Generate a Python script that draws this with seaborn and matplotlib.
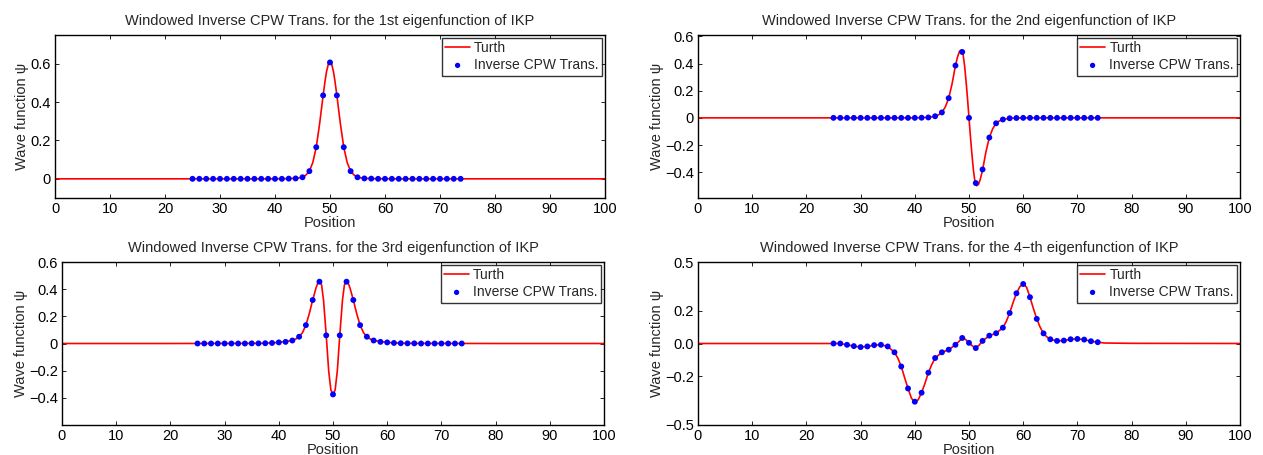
import numpy as np
import pandas as pd
import matplotlib
matplotlib.use("Agg")
import matplotlib.pyplot as plt
import seaborn as sns

# ---------------- data ----------------
dot_x = [25, 26.25, 27.5, 28.75, 30, 31.25, 32.5, 33.75, 35, 36.25,
         37.5, 38.75, 40, 41.25, 42.5, 43.75, 45, 46.25, 47.5, 48.75,
         50, 51.25, 52.5, 53.75, 55, 56.25, 57.5, 58.75, 60, 61.25,
         62.5, 63.75, 65, 66.25, 67.5, 68.75, 70, 71.25, 72.5, 73.75]

dot1 = [0, 0, 0, 0, 0, 0, 0, 0, 0, 0,
        0, 0, 0, 0, 0.001, 0.002, 0.008, 0.04, 0.165, 0.435,
        0.607, 0.435, 0.165, 0.04, 0.008, 0.002, 0.001, 0, 0, 0,
        0, 0, 0, 0, 0, 0, 0, 0, 0, 0]
dot2 = [0, 0, 0, 0, 0, 0, 0, 0, 0, 0,
        0, 0, 0, 0.001, 0.003, 0.012, 0.04, 0.145, 0.385, 0.485,
        0.0, -0.48, -0.38, -0.145, -0.04, -0.012, -0.003, -0.001, 0, 0,
        0, 0, 0, 0, 0, 0, 0, 0, 0, 0]
dot3 = [0, 0, 0, 0, 0, 0, 0, 0, 0.001, 0.001,
        0.002, 0.004, 0.008, 0.012, 0.022, 0.05, 0.135, 0.32, 0.455, 0.06,
        -0.375, 0.06, 0.455, 0.32, 0.135, 0.05, 0.022, 0.012, 0.008, 0.004,
        0.002, 0.001, 0.001, 0, 0, 0, 0, 0, 0, 0]
dot4 = [0.0, 0.0, -0.008, -0.016, -0.022, -0.018, -0.01, -0.008, -0.018, -0.054,
        -0.141, -0.276, -0.357, -0.302, -0.179, -0.089, -0.054, -0.038, -0.008, 0.034,
        0.004, -0.028, 0.016, 0.048, 0.063, 0.097, 0.187, 0.308, 0.365, 0.284,
        0.151, 0.062, 0.026, 0.016, 0.018, 0.026, 0.028, 0.024, 0.014, 0.008]

truth1_x = [0, 20, 40, 42.5, 43.75, 44.375, 45, 45.625, 46.25, 46.875, 47.5, 48.125,
            48.75, 49.1, 49.375, 49.7, 50, 50.3, 50.625, 50.9, 51.25, 51.875, 52.5,
            53.125, 53.75, 54.375, 55, 55.625, 56.25, 57.5, 60, 80, 100]
truth1_y = [0, 0, 0, 0.001, 0.003, 0.005, 0.008, 0.02, 0.04, 0.085, 0.165, 0.29,
            0.435, 0.51, 0.56, 0.598, 0.61, 0.598, 0.56, 0.51, 0.435, 0.29, 0.165,
            0.085, 0.04, 0.02, 0.008, 0.005, 0.003, 0.001, 0, 0, 0]

truth2_x = [0, 20, 40, 42.5, 43.75, 44.375, 45, 45.625, 46.25, 46.875, 47.5, 47.9,
            48.25, 48.6, 48.9, 49.2, 49.5, 49.75, 50, 50.25, 50.5, 50.8, 51.1,
            51.4, 51.75, 52.1, 52.5, 53.125, 53.75, 54.375, 55, 55.625, 56.25,
            57.5, 60, 80, 100]
truth2_y = [0, 0, 0, 0.003, 0.012, 0.022, 0.04, 0.08, 0.145, 0.25, 0.385, 0.45,
            0.49, 0.5, 0.47, 0.38, 0.25, 0.13, 0.0, -0.13, -0.25, -0.38, -0.47,
            -0.5, -0.49, -0.45, -0.385, -0.25, -0.145, -0.08, -0.04, -0.022, -0.012,
            -0.003, 0, 0, 0]

truth3_x = [0, 20, 35, 37.5, 40, 42.5, 43.125, 43.75, 44.375, 45, 45.625, 46.25,
            46.875, 47.2, 47.55, 47.9, 48.25, 48.75, 49.2, 49.6, 50, 50.4, 50.8,
            51.25, 51.75, 52.1, 52.45, 52.8, 53.125, 53.75, 54.375, 55, 55.625,
            56.25, 56.875, 57.5, 60, 62.5, 65, 80, 100]
truth3_y = [0, 0, 0.001, 0.002, 0.008, 0.022, 0.033, 0.05, 0.08, 0.135, 0.22, 0.32,
            0.41, 0.445, 0.458, 0.43, 0.32, 0.06, -0.2, -0.34, -0.378, -0.34, -0.2,
            0.06, 0.32, 0.43, 0.458, 0.445, 0.41, 0.32, 0.22, 0.135, 0.08,
            0.05, 0.033, 0.022, 0.008, 0.002, 0.001, 0, 0]

truth4_x = [0, 20, 25, 26.25, 27.5, 28.75, 30, 31.25, 32.5, 33.75, 35, 36.25,
            36.875, 37.5, 38.125, 38.75, 39.375, 40, 40.625, 41.25, 41.875, 42.5,
            43.125, 43.75, 45, 46.25, 47.5, 48.125, 48.75, 49.375, 50, 50.625,
            51.25, 51.875, 52.5, 53.75, 55, 56.25, 56.875, 57.5, 58.125, 58.75,
            59.375, 60, 60.625, 61.25, 61.875, 62.5, 63.125, 63.75, 64.375, 65,
            66.25, 67.5, 68.75, 70, 71.25, 72.5, 73.75, 75, 80, 100]
truth4_y = [0, 0, 0.0, 0.0, -0.008, -0.016, -0.022, -0.018, -0.01, -0.008, -0.018, -0.054,
            -0.09, -0.141, -0.21, -0.276, -0.335, -0.362, -0.345, -0.302, -0.245, -0.179,
            -0.13, -0.089, -0.054, -0.038, -0.008, 0.012, 0.034, 0.025, 0.004, -0.015,
            -0.028, -0.01, 0.016, 0.048, 0.063, 0.097, 0.135, 0.187, 0.25, 0.308,
            0.348, 0.367, 0.345, 0.284, 0.215, 0.151, 0.1, 0.062, 0.04, 0.026,
            0.016, 0.018, 0.026, 0.028, 0.024, 0.014, 0.008, 0.003, 0.001, 0]

titles = ["Windowed Inverse CPW Trans. for the 1st eigenfunction of IKP",
          "Windowed Inverse CPW Trans. for the 2nd eigenfunction of IKP",
          "Windowed Inverse CPW Trans. for the 3rd eigenfunction of IKP",
          "Windowed Inverse CPW Trans. for the 4\u2212th eigenfunction of IKP"]

xticks = [0, 10, 20, 30, 40, 50, 60, 70, 80, 90, 100]
yticks = [[0, 0.2, 0.4, 0.6],
          [-0.4, -0.2, 0, 0.2, 0.4, 0.6],
          [-0.4, -0.2, 0, 0.2, 0.4, 0.6],
          [-0.5, -0.2, 0.0, 0.2, 0.5]]
ytick_labels = [["0", "0.2", "0.4", "0.6"],
                ["\u22120.4", "\u22120.2", "0", "0.2", "0.4", "0.6"],
                ["\u22120.4", "\u22120.2", "0", "0.2", "0.4", "0.6"],
                ["\u22120.5", "\u22120.2", "0.0", "0.2", "0.5"]]
ylims = [(-0.1, 0.75), (-0.59, 0.61), (-0.6, 0.6), (-0.5, 0.5)]

# ---------------- plotting ----------------
sns.set_style("white")
plt.rcParams['font.family'] = ['Liberation Sans', 'DejaVu Sans']
plt.rcParams['axes.unicode_minus'] = True

fig = plt.figure(figsize=(12.63, 4.55), dpi=100)
W, H = 1263, 455
boxes = [(55, 35, 605, 198), (698, 35, 1240, 198),
         (62, 262, 604, 425), (698, 262, 1240, 425)]

truths = [(truth1_x, truth1_y), (truth2_x, truth2_y),
          (truth3_x, truth3_y), (truth4_x, truth4_y)]
dots = [dot1, dot2, dot3, dot4]

for i, (l, t, r, b) in enumerate(boxes):
    ax = fig.add_axes([l / W, 1 - b / H, (r - l) / W, (b - t) / H])
    tdf = pd.DataFrame({"x": truths[i][0], "y": truths[i][1]})
    ddf = pd.DataFrame({"x": dot_x, "y": dots[i]})
    sns.lineplot(data=tdf, x="x", y="y", ax=ax, color="#ff0000", linewidth=1.2,
                 label="Turth", sort=False, estimator=None)
    sns.scatterplot(data=ddf, x="x", y="y", ax=ax, color="#0000ff", s=18,
                    edgecolor="none", label="Inverse CPW Trans.", zorder=3)
    ax.set_xlim(0, 100)
    ax.set_ylim(*ylims[i])
    ax.set_xticks(xticks)
    ax.set_xticklabels([str(v) for v in xticks])
    ax.set_yticks(yticks[i])
    ax.set_yticklabels(ytick_labels[i])
    ax.tick_params(direction="in", length=3, width=0.6, labelsize=10.5,
                   top=True, right=True, bottom=True, left=True, pad=3,
                   colors="black")
    for sp in ax.spines.values():
        sp.set_color("black")
        sp.set_linewidth(1.0)
    ax.set_xlabel("Position", fontsize=10.5, labelpad=0)
    ax.set_ylabel("Wave function \u03c8", fontsize=10.5, labelpad=1)
    ax.set_title(titles[i], fontsize=10.5, pad=7)
    leg = ax.legend(loc="upper right", fontsize=10, frameon=True, fancybox=False,
                    borderaxespad=0.2, handlelength=1.8, handletextpad=0.3,
                    borderpad=0.25, labelspacing=0.2, markerscale=0.9)
    leg.get_frame().set_edgecolor("black")
    leg.get_frame().set_linewidth(1.0)

fig.savefig("out.png", dpi=100)
